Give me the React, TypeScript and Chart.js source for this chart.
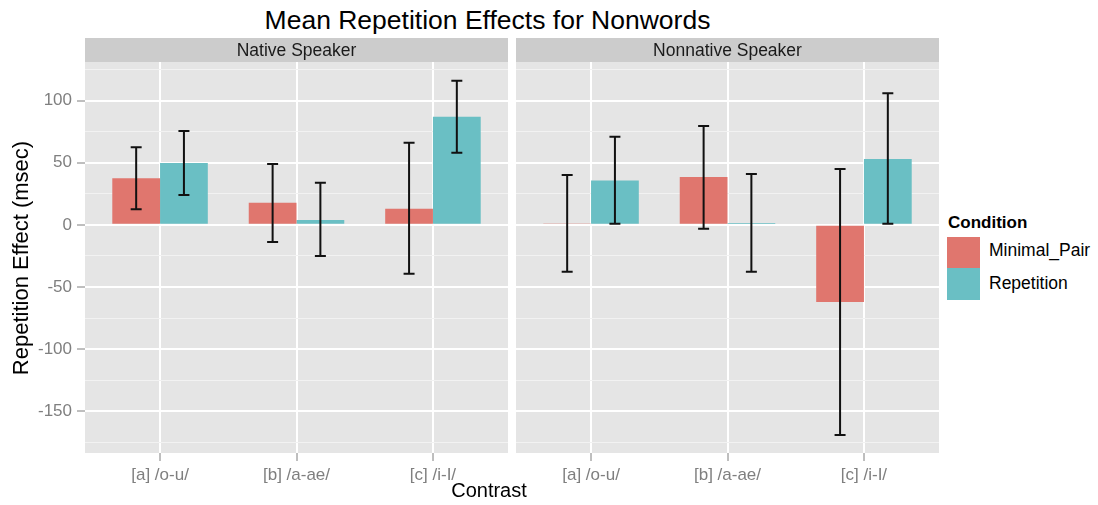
import React, { useEffect, useRef } from "react";
import { Chart, registerables } from "chart.js";

Chart.register(...registerables);

// ---------- data ----------
const categories = ["[a] /o-u/", "[b] /a-ae/", "[c] /i-I/"];
const facets = ["Native Speaker", "Nonnative Speaker"];
const seriesNames = ["Minimal_Pair", "Repetition"];

const nativeMinimalPair = [37.5, 17.7, 13];
const nativeMinimalPairLow = [12.6, -13.7, -39.4];
const nativeMinimalPairHigh = [62.5, 49, 66];
const nativeRepetition = [49.7, 4, 87];
const nativeRepetitionLow = [24, -25, 58];
const nativeRepetitionHigh = [75.6, 33.8, 116];

const nonnativeMinimalPair = [1, 38.6, -62];
const nonnativeMinimalPairLow = [-37.8, -3.2, -169];
const nonnativeMinimalPairHigh = [40.2, 79.6, 45];
const nonnativeRepetition = [35.6, 1.6, 53];
const nonnativeRepetitionLow = [0.8, -37.8, 0.8];
const nonnativeRepetitionHigh = [70.8, 41, 105.8];

const yTickValues = [-175, -150, -125, -100, -75, -50, -25, 0, 25, 50, 75, 100, 125];
const yMajorTicks = [-150, -100, -50, 0, 50, 100];
const yMin = -183.5;
const yMax = 131;

// ---------- style ----------
const FONT = "'Liberation Sans', Arial, Helvetica, sans-serif";
const MP_COLOR = "#E0766E";
const REP_COLOR = "#6ABFC4";
const PANEL_BG = "#E5E5E5";
const STRIP_BG = "#CCCCCC";
const AXIS_TEXT = "#7F7F7F";

const panelBgPlugin = {
  id: "panelBg",
  beforeDraw(chart: any) {
    const { ctx, chartArea } = chart;
    if (!chartArea) return;
    ctx.save();
    ctx.fillStyle = PANEL_BG;
    ctx.fillRect(chartArea.left, chartArea.top, chartArea.right - chartArea.left, chartArea.bottom - chartArea.top);
    ctx.restore();
  },
};

const errorBarPlugin = {
  id: "errorBars",
  afterDatasetsDraw(chart: any) {
    const { ctx } = chart;
    const yScale = chart.scales.y;
    chart.data.datasets.forEach((ds: any, di: number) => {
      const meta = chart.getDatasetMeta(di);
      meta.data.forEach((el: any, i: number) => {
        const x = el.x;
        const half = (el.width * 0.23) / 2;
        const top = yScale.getPixelForValue(ds.high[i]);
        const bot = yScale.getPixelForValue(ds.low[i]);
        ctx.save();
        ctx.strokeStyle = "#111111";
        ctx.lineWidth = 2;
        ctx.beginPath();
        ctx.moveTo(x, top);
        ctx.lineTo(x, bot);
        ctx.moveTo(x - half, top);
        ctx.lineTo(x + half, top);
        ctx.moveTo(x - half, bot);
        ctx.lineTo(x + half, bot);
        ctx.stroke();
        ctx.restore();
      });
    });
  },
};

type PanelProps = {
  mp: number[];
  mpLow: number[];
  mpHigh: number[];
  rep: number[];
  repLow: number[];
  repHigh: number[];
  showY: boolean;
  left: number;
  top: number;
  width: number;
  height: number;
};

function Panel(p: PanelProps) {
  const ref = useRef<HTMLCanvasElement | null>(null);
  useEffect(() => {
    if (!ref.current) return;
    const isMajor = (v: number) => yMajorTicks.includes(v);
    const chart = new Chart(ref.current, {
      type: "bar",
      data: {
        datasets: [
          {
            label: seriesNames[0],
            data: p.mp.map((v, i) => ({ x: i, y: v })),
            backgroundColor: MP_COLOR,
            low: p.mpLow,
            high: p.mpHigh,
          } as any,
          {
            label: seriesNames[1],
            data: p.rep.map((v, i) => ({ x: i, y: v })),
            backgroundColor: REP_COLOR,
            low: p.repLow,
            high: p.repHigh,
          } as any,
        ],
      },
      options: {
        responsive: false,
        animation: false,
        layout: { padding: { top: 20, left: 0, right: 0, bottom: 0 } },
        datasets: { bar: { categoryPercentage: 0.7, barPercentage: 1.0 } },
        plugins: {
          legend: { display: false },
          tooltip: { enabled: false },
          title: { display: false },
        },
        scales: {
          x: {
            type: "linear",
            min: -0.55,
            max: 2.55,
            offset: false,
            afterBuildTicks: (s: any) => {
              s.ticks = categories.map((_, i) => ({ value: i }));
            },
            afterFit: (s: any) => {
              s.height = 40;
            },
            ticks: {
              autoSkip: false,
              maxRotation: 0,
              padding: 4,
              color: AXIS_TEXT,
              font: { family: FONT, size: 17 },
              callback: (v: any) => categories[Number(v)] ?? "",
            },
            grid: {
              offset: false,
              color: "#FFFFFF",
              lineWidth: 2,
              tickColor: AXIS_TEXT,
              tickLength: 8,
              tickWidth: 1,
            },
            border: { display: false },
          },
          y: {
            type: "linear",
            min: yMin,
            max: yMax,
            afterBuildTicks: (s: any) => {
              s.ticks = yTickValues.map((v) => ({ value: v }));
            },
            afterFit: (s: any) => {
              s.width = p.showY ? 85 : 0;
            },
            ticks: {
              display: p.showY,
              padding: 5,
              color: AXIS_TEXT,
              font: { family: FONT, size: 17 },
              callback: (v: any) => (isMajor(Number(v)) ? String(v) : ""),
            },
            grid: {
              color: (c: any) => (isMajor(c.tick?.value) ? "#FFFFFF" : "#F2F2F2"),
              lineWidth: (c: any) => (isMajor(c.tick?.value) ? 2 : 1),
              tickColor: (c: any) => (isMajor(c.tick?.value) ? AXIS_TEXT : "rgba(0,0,0,0)"),
              tickLength: 8,
              tickWidth: 1,
              drawTicks: p.showY,
            },
            border: { display: false },
          },
        },
      } as any,
      plugins: [panelBgPlugin, errorBarPlugin],
    });
    return () => chart.destroy();
  }, []);
  return (
    <canvas
      ref={ref}
      width={p.width}
      height={p.height}
      style={{ position: "absolute", left: p.left, top: p.top, width: p.width, height: p.height }}
    />
  );
}

function Txt(props: {
  x: number;
  baseline: number;
  size: number;
  text: string;
  align?: "left" | "center";
  bold?: boolean;
  color?: string;
}) {
  const { x, baseline, size, text, align = "left", bold, color = "#000000" } = props;
  const top = baseline - 0.8465 * size;
  const style: React.CSSProperties = {
    position: "absolute",
    top,
    fontFamily: FONT,
    fontSize: size,
    lineHeight: `${size}px`,
    fontWeight: bold ? "bold" : "normal",
    color,
    whiteSpace: "nowrap",
  };
  if (align === "center") {
    style.left = x - 400;
    style.width = 800;
    style.textAlign = "center";
  } else {
    style.left = x;
  }
  return <div style={style}>{text}</div>;
}

export default function App() {
  const canvasTop = 42;
  const canvasHeight = 451;
  return (
    <div
      style={{
        position: "absolute",
        left: 0,
        top: 0,
        width: 1098,
        height: 505,
        background: "#FFFFFF",
        overflow: "hidden",
      }}
    >
      <Txt x={487.5} baseline={29.3} size={26.5} text="Mean Repetition Effects for Nonwords" align="center" />

      <Panel
        mp={nativeMinimalPair}
        mpLow={nativeMinimalPairLow}
        mpHigh={nativeMinimalPairHigh}
        rep={nativeRepetition}
        repLow={nativeRepetitionLow}
        repHigh={nativeRepetitionHigh}
        showY={true}
        left={0}
        top={canvasTop}
        width={508}
        height={canvasHeight}
      />
      <Panel
        mp={nonnativeMinimalPair}
        mpLow={nonnativeMinimalPairLow}
        mpHigh={nonnativeMinimalPairHigh}
        rep={nonnativeRepetition}
        repLow={nonnativeRepetitionLow}
        repHigh={nonnativeRepetitionHigh}
        showY={false}
        left={516}
        top={canvasTop}
        width={423}
        height={canvasHeight}
      />

      <div style={{ position: "absolute", left: 85, top: 38, width: 423, height: 24, background: STRIP_BG }} />
      <div style={{ position: "absolute", left: 516, top: 38, width: 423, height: 24, background: STRIP_BG }} />
      <Txt x={296.5} baseline={57.3} size={17.5} text={facets[0]} align="center" color="#1A1A1A" />
      <Txt x={727.5} baseline={57.3} size={17.5} text={facets[1]} align="center" color="#1A1A1A" />

      <Txt x={489} baseline={497} size={20} text="Contrast" align="center" />

      <div
        style={{
          position: "absolute",
          left: 21 - 200,
          top: 258 - 11,
          width: 400,
          height: 22,
          lineHeight: "22px",
          fontSize: 22,
          fontFamily: FONT,
          textAlign: "center",
          color: "#000000",
          transform: "rotate(-90deg)",
          transformOrigin: "50% 50%",
          whiteSpace: "nowrap",
        }}
      >
        Repetition Effect (msec)
      </div>

      <Txt x={948} baseline={228.3} size={17} text="Condition" bold />
      <div style={{ position: "absolute", left: 947, top: 237, width: 33, height: 31, background: MP_COLOR }} />
      <div style={{ position: "absolute", left: 947, top: 268, width: 33, height: 32, background: REP_COLOR }} />
      <Txt x={989} baseline={257.3} size={17.5} text={seriesNames[0]} />
      <Txt x={989} baseline={289.5} size={17.5} text={seriesNames[1]} />
    </div>
  );
}
